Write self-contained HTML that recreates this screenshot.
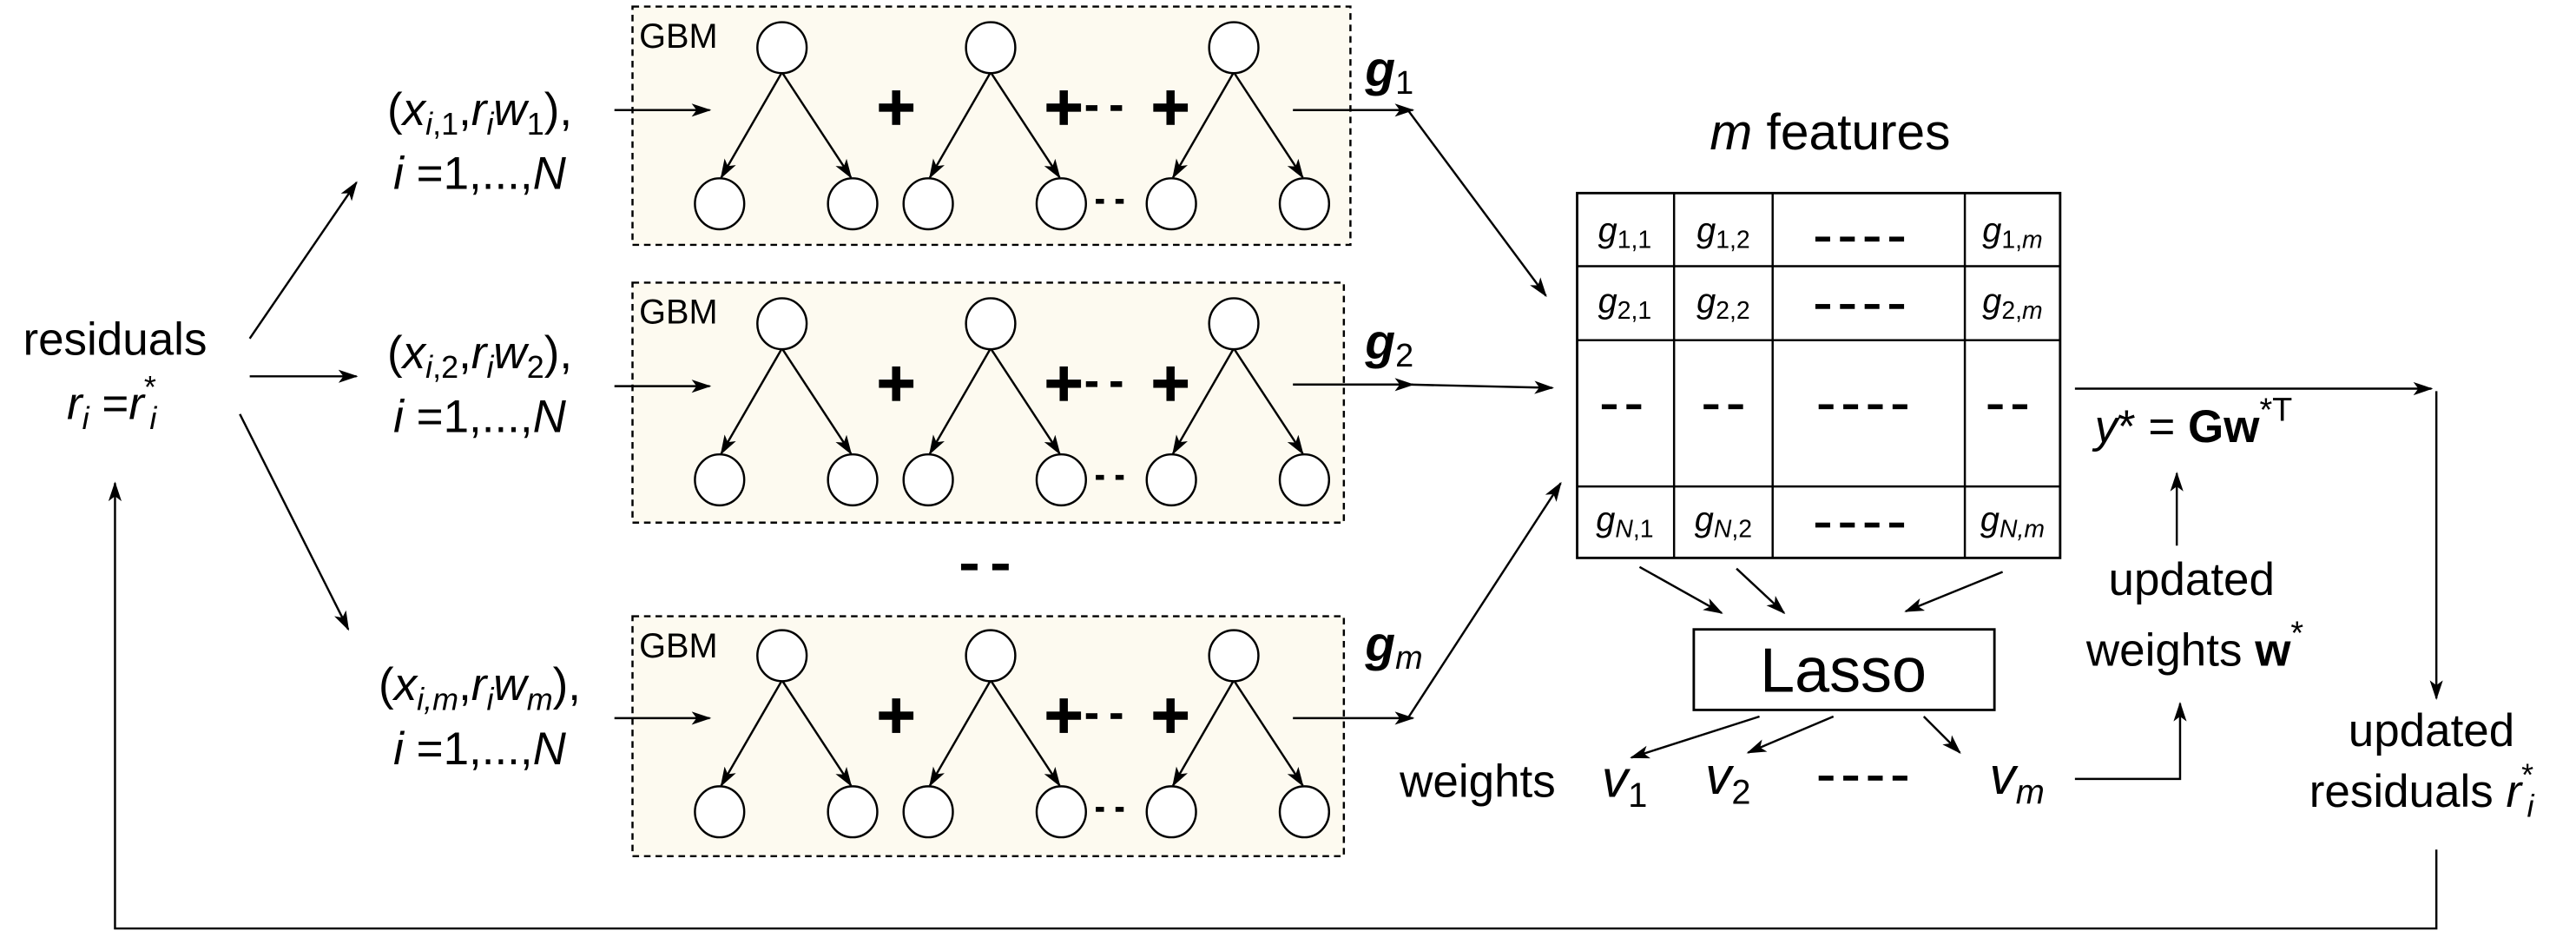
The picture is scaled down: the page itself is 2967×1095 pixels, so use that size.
<!DOCTYPE html>
<html><head><meta charset="utf-8"><style>
html,body{margin:0;padding:0;background:#fff}
svg{display:block}
text{font-family:"Liberation Sans",Arial,sans-serif;fill:#000}
</style></head><body>
<svg width="2967" height="1095" viewBox="0 0 1568 578.7" preserveAspectRatio="none" xmlns="http://www.w3.org/2000/svg">
<defs>
<marker id="a" markerWidth="12" markerHeight="10" refX="11" refY="4" orient="auto" markerUnits="userSpaceOnUse">
<path d="M0,0 L12,4 L0,8 L3,4 z" fill="#000"/></marker>
<g id="trees" stroke="#000" stroke-width="1.3" fill="#fff">
<g stroke-width="1.3">
<line x1="476" y1="44" x2="439" y2="108" marker-end="url(#a)"/>
<line x1="476" y1="44" x2="518" y2="108" marker-end="url(#a)"/>
<line x1="603" y1="44" x2="566" y2="108" marker-end="url(#a)"/>
<line x1="603" y1="44" x2="645" y2="108" marker-end="url(#a)"/>
<line x1="751" y1="44" x2="714" y2="108" marker-end="url(#a)"/>
<line x1="751" y1="44" x2="793" y2="108" marker-end="url(#a)"/>
</g>
<ellipse cx="476" cy="29" rx="15" ry="15.5"/>
<ellipse cx="603" cy="29" rx="15" ry="15.5"/>
<ellipse cx="751" cy="29" rx="15" ry="15.5"/>
<ellipse cx="438" cy="124" rx="15" ry="15.5"/>
<ellipse cx="519" cy="124" rx="15" ry="15.5"/>
<ellipse cx="565" cy="124" rx="15" ry="15.5"/>
<ellipse cx="646" cy="124" rx="15" ry="15.5"/>
<ellipse cx="713" cy="124" rx="15" ry="15.5"/>
<ellipse cx="794" cy="124" rx="15" ry="15.5"/>
<g stroke="none" fill="#000">
<rect x="535" y="63" width="21" height="5"/><rect x="543" y="55" width="5" height="21"/>
<rect x="637" y="63" width="21" height="5"/><rect x="645" y="55" width="5" height="21"/>
<rect x="702" y="63" width="21" height="5"/><rect x="710" y="55" width="5" height="21"/>
<rect x="661" y="64" width="7" height="3.5"/><rect x="676" y="64" width="7" height="3.5"/>
<rect x="667" y="121" width="5" height="3"/><rect x="679" y="121" width="5" height="3"/>
</g>
<line x1="374" y1="67" x2="432" y2="67" marker-end="url(#a)"/>
</g>
</defs>

<g fill="#fdfaf0" stroke="#000" stroke-width="1.3" stroke-dasharray="4,3">
<rect x="385" y="4" width="437" height="145"/>
<rect x="385" y="172" width="433" height="146"/>
<rect x="385" y="375" width="433" height="146"/>
</g>
<text x="389" y="29" font-size="21">GBM</text>
<text x="389" y="197" font-size="21">GBM</text>
<text x="389" y="400" font-size="21">GBM</text>
<use href="#trees"/>
<use href="#trees" transform="translate(0,168)"/>
<use href="#trees" transform="translate(0,370)"/>

<rect x="585" y="343" width="10" height="4"/><rect x="604" y="343" width="10" height="4"/>

<text x="70" y="216" font-size="28" text-anchor="middle">residuals</text>
<text x="68" y="255" font-size="28" text-anchor="middle"><tspan font-style="italic">r</tspan><tspan font-size="19" font-style="italic" dy="6">i</tspan><tspan dy="-6"> =</tspan><tspan font-style="italic">r</tspan><tspan font-size="19" dy="-13">*</tspan><tspan font-size="19" font-style="italic" dx="-4" dy="19">i</tspan></text>

<g font-size="28" text-anchor="middle">
<text x="292" y="76">(<tspan font-style="italic">x</tspan><tspan font-size="19" dy="6"><tspan font-style="italic">i</tspan>,1</tspan><tspan dy="-6">,</tspan><tspan font-style="italic">r</tspan><tspan font-size="19" font-style="italic" dy="6">i</tspan><tspan font-style="italic" dy="-6">w</tspan><tspan font-size="19" dy="6">1</tspan><tspan dy="-6">),</tspan></text>
<text x="292" y="115"><tspan font-style="italic">i</tspan> =1,...,<tspan font-style="italic">N</tspan></text>
<text x="292" y="224">(<tspan font-style="italic">x</tspan><tspan font-size="19" dy="6"><tspan font-style="italic">i</tspan>,2</tspan><tspan dy="-6">,</tspan><tspan font-style="italic">r</tspan><tspan font-size="19" font-style="italic" dy="6">i</tspan><tspan font-style="italic" dy="-6">w</tspan><tspan font-size="19" dy="6">2</tspan><tspan dy="-6">),</tspan></text>
<text x="292" y="263"><tspan font-style="italic">i</tspan> =1,...,<tspan font-style="italic">N</tspan></text>
<text x="292" y="426">(<tspan font-style="italic">x</tspan><tspan font-size="19" dy="6" font-style="italic">i,m</tspan><tspan dy="-6">,</tspan><tspan font-style="italic">r</tspan><tspan font-size="19" font-style="italic" dy="6">i</tspan><tspan font-style="italic" dy="-6">w</tspan><tspan font-size="19" font-style="italic" dy="6">m</tspan><tspan dy="-6">),</tspan></text>
<text x="292" y="465"><tspan font-style="italic">i</tspan> =1,...,<tspan font-style="italic">N</tspan></text>
</g>

<g stroke="#000" stroke-width="1.3" fill="none">
<line x1="152" y1="206" x2="217" y2="111" marker-end="url(#a)"/>
<line x1="152" y1="229" x2="217" y2="229" marker-end="url(#a)"/>
<line x1="146" y1="252" x2="212" y2="383" marker-end="url(#a)"/>
<line x1="787" y1="67" x2="860" y2="67" marker-end="url(#a)"/>
<line x1="857" y1="67" x2="941" y2="180" marker-end="url(#a)"/>
<line x1="787" y1="234" x2="860" y2="234" marker-end="url(#a)"/>
<line x1="857" y1="234" x2="945" y2="236" marker-end="url(#a)"/>
<line x1="787" y1="437" x2="860" y2="437" marker-end="url(#a)"/>
<line x1="857" y1="437" x2="950" y2="294" marker-end="url(#a)"/>
<rect x="960" y="117.5" width="294" height="222" stroke-width="1.5"/>
<line x1="1019" y1="117.5" x2="1019" y2="339.5"/>
<line x1="1079" y1="117.5" x2="1079" y2="339.5"/>
<line x1="1196" y1="117.5" x2="1196" y2="339.5"/>
<line x1="960" y1="162" x2="1254" y2="162"/>
<line x1="960" y1="207" x2="1254" y2="207"/>
<line x1="960" y1="296" x2="1254" y2="296"/>
<line x1="998" y1="345" x2="1048" y2="373" marker-end="url(#a)"/>
<line x1="1057" y1="346" x2="1086" y2="373" marker-end="url(#a)"/>
<line x1="1219" y1="348" x2="1160" y2="372" marker-end="url(#a)"/>
<rect x="1031" y="383" width="183" height="49" stroke-width="1.5"/>
<line x1="1071" y1="436" x2="993" y2="461" marker-end="url(#a)"/>
<line x1="1116" y1="436" x2="1064" y2="458" marker-end="url(#a)"/>
<line x1="1171" y1="436" x2="1193" y2="458" marker-end="url(#a)"/>
<polyline points="1263,474 1327,474 1327,428" marker-end="url(#a)"/>
<line x1="1325" y1="332" x2="1325" y2="288" marker-end="url(#a)"/>
<line x1="1263" y1="236.5" x2="1480" y2="236.5" marker-end="url(#a)"/>
<line x1="1483" y1="238" x2="1483" y2="425" marker-end="url(#a)"/>
<polyline points="1483,517 1483,565 70,565 70,294" marker-end="url(#a)"/>
</g>

<text x="831" y="52" font-size="30" font-weight="bold" font-style="italic">g<tspan font-size="20" font-weight="normal" font-style="normal" dy="5">1</tspan></text>
<text x="831" y="218" font-size="30" font-weight="bold" font-style="italic">g<tspan font-size="20" font-weight="normal" font-style="normal" dy="5">2</tspan></text>
<text x="831" y="402" font-size="30" font-weight="bold" font-style="italic">g<tspan font-size="20" font-weight="normal" dy="5">m</tspan></text>

<text x="1114" y="91" font-size="31" text-anchor="middle"><tspan font-style="italic">m</tspan> features</text>

<g font-size="21" font-style="italic" text-anchor="middle">
<text x="989" y="147">g<tspan font-size="15" font-style="normal" dy="4">1,1</tspan></text>
<text x="1049" y="147">g<tspan font-size="15" font-style="normal" dy="4">1,2</tspan></text>
<text x="1225" y="147">g<tspan font-size="15" dy="4"><tspan font-style="normal">1,</tspan>m</tspan></text>
<text x="989" y="190">g<tspan font-size="15" font-style="normal" dy="4">2,1</tspan></text>
<text x="1049" y="190">g<tspan font-size="15" font-style="normal" dy="4">2,2</tspan></text>
<text x="1225" y="190">g<tspan font-size="15" dy="4"><tspan font-style="normal">2,</tspan>m</tspan></text>
<text x="989" y="323">g<tspan font-size="15" dy="4">N<tspan font-style="normal">,1</tspan></tspan></text>
<text x="1049" y="323">g<tspan font-size="15" dy="4">N<tspan font-style="normal">,2</tspan></tspan></text>
<text x="1225" y="323">g<tspan font-size="15" dy="4">N,m</tspan></text>
</g>
<g fill="#000">
<rect x="1105" y="144" width="9" height="3"/><rect x="1120" y="144" width="9" height="3"/><rect x="1135" y="144" width="9" height="3"/><rect x="1150" y="144" width="9" height="3"/>
<rect x="1105" y="185" width="9" height="3"/><rect x="1120" y="185" width="9" height="3"/><rect x="1135" y="185" width="9" height="3"/><rect x="1150" y="185" width="9" height="3"/>
<rect x="1105" y="318" width="9" height="3"/><rect x="1120" y="318" width="9" height="3"/><rect x="1135" y="318" width="9" height="3"/><rect x="1150" y="318" width="9" height="3"/>
<rect x="1107" y="246" width="9" height="3"/><rect x="1122" y="246" width="9" height="3"/><rect x="1137" y="246" width="9" height="3"/><rect x="1152" y="246" width="9" height="3"/>
<rect x="975" y="246" width="9" height="3"/><rect x="990" y="246" width="9" height="3"/>
<rect x="1037" y="246" width="9" height="3"/><rect x="1052" y="246" width="9" height="3"/>
<rect x="1210" y="246" width="9" height="3"/><rect x="1225" y="246" width="9" height="3"/>
<rect x="1107" y="472" width="9" height="3"/><rect x="1122" y="472" width="9" height="3"/><rect x="1137" y="472" width="9" height="3"/><rect x="1152" y="472" width="9" height="3"/>
</g>

<text x="1122" y="421" font-size="38" text-anchor="middle">Lasso</text>
<text x="852" y="485" font-size="28">weights</text>
<text x="975" y="485" font-size="32" font-style="italic">v<tspan font-size="21" font-style="normal" dy="6">1</tspan></text>
<text x="1038" y="483" font-size="32" font-style="italic">v<tspan font-size="21" font-style="normal" dy="6">2</tspan></text>
<text x="1211" y="483" font-size="32" font-style="italic">v<tspan font-size="21" dy="6">m</tspan></text>

<text x="1275" y="269" font-size="28"><tspan font-style="italic">y</tspan>* = <tspan font-weight="bold">Gw</tspan><tspan font-size="20" dy="-13">*T</tspan></text>
<text x="1334" y="362" font-size="28" text-anchor="middle">updated</text>
<text x="1336" y="405" font-size="28" text-anchor="middle">weights <tspan font-weight="bold">w</tspan><tspan font-size="20" dy="-13">*</tspan></text>
<text x="1480" y="454" font-size="28" text-anchor="middle">updated</text>
<text x="1474" y="491" font-size="28" text-anchor="middle">residuals <tspan font-style="italic">r</tspan><tspan font-size="19" dy="-13">*</tspan><tspan font-size="19" font-style="italic" dx="-4" dy="19">i</tspan></text>
</svg>
</body></html>
